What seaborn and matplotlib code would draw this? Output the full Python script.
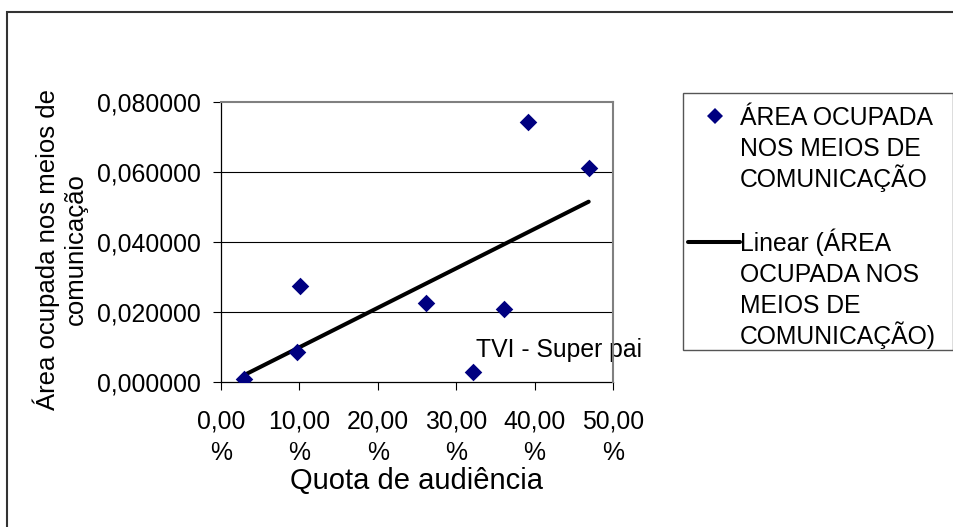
import matplotlib
matplotlib.use("Agg")
import matplotlib.pyplot as plt
from matplotlib.patches import Rectangle
from matplotlib.lines import Line2D
from matplotlib.ticker import FuncFormatter, FixedLocator
import seaborn as sns
import numpy as np

# ---- data ----
quota_audiencia = [2.97, 9.73, 10.08, 26.2, 32.2, 36.1, 39.2, 46.9]          # %
area_ocupada = [0.00077, 0.0085, 0.0274, 0.0225, 0.0029, 0.0209, 0.0744, 0.0611]
x_ticks = [0, 10, 20, 30, 40, 50]
y_ticks = [0.0, 0.02, 0.04, 0.06, 0.08]
point_label = "TVI - Super pai"
point_label_index = 4
legend_labels = [["ÁREA OCUPADA", "NOS MEIOS DE", "COMUNICAÇÃO"],
                 ["Linear (ÁREA", "OCUPADA NOS", "MEIOS DE", "COMUNICAÇÃO)"]]
x_title = "Quota de audiência"
y_title = "Área ocupada nos meios de\ncomunicação"

sns.set_style("white")
plt.rcParams['font.family'] = ['Liberation Sans', 'DejaVu Sans']

W, H = 954, 527
fig = plt.figure(figsize=(W / 100, H / 100), dpi=100)
fig.patch.set_facecolor("white")

def fx(px):
    return px / W

def fy(py):
    return 1 - py / H

ax = fig.add_axes([fx(221), fy(382), fx(613) - fx(221), fy(102) - fy(382)])

navy = "#000080"
sns.regplot(x=quota_audiencia, y=area_ocupada, ax=ax, ci=None, truncate=True,
            marker="D",
            scatter_kws=dict(s=80, color=navy, edgecolor=navy, linewidths=0, alpha=1, zorder=4),
            line_kws=dict(color="black", lw=2.9, zorder=3, solid_capstyle="round"))

ax.set_xlim(0, 50)
ax.set_ylim(0, 0.08)
ax.xaxis.set_major_locator(FixedLocator(x_ticks))
ax.yaxis.set_major_locator(FixedLocator(y_ticks))
ax.xaxis.set_major_formatter(FuncFormatter(lambda v, p: f"{v:.2f}".replace('.', ',') + "\n%"))
ax.yaxis.set_major_formatter(FuncFormatter(lambda v, p: f"{v:.6f}".replace('.', ',')))

ax.tick_params(axis="both", direction="out", length=5.5, width=0.8, color="black",
               labelsize=17.8, labelcolor="black")
ax.tick_params(axis="x", pad=14)
ax.tick_params(axis="y", pad=9)
ax.tick_params(left=True, bottom=True)
for lab in ax.get_xticklabels():
    lab.set_multialignment("center")
    lab.set_linespacing(1.42)

# horizontal gridlines
for v in y_ticks[1:-1]:
    ax.axhline(v, color="black", lw=0.8, zorder=1)

for s in ["left", "bottom"]:
    ax.spines[s].set_color("black")
    ax.spines[s].set_linewidth(0.9)
for s in ["top", "right"]:
    ax.spines[s].set_color("#808080")
    ax.spines[s].set_linewidth(1.5)
    ax.spines[s].set_zorder(6)

ax.set_xlabel(x_title, fontsize=21, color="black")
ax.xaxis.set_label_coords(0.5, -0.305)
ax.set_ylabel(y_title, fontsize=18.5, color="black", va="center", linespacing=1.2)
ax.yaxis.set_label_coords(-0.41, 0.475)

# data label
ax.annotate(point_label, xy=(quota_audiencia[point_label_index], area_ocupada[point_label_index]),
            xytext=(3, 15), textcoords="offset pixels", ha="left", va="baseline",
            fontsize=17.8, color="black", zorder=5, annotation_clip=False)

# ---- legend (Excel style) ----
fig.add_artist(Rectangle((fx(683), fy(350)), fx(953) - fx(683), fy(93) - fy(350),
                         transform=fig.transFigure, fill=False, edgecolor="#555555", lw=1.0))
fig.add_artist(Line2D([fx(715)], [fy(116)], marker="D", markersize=8.5, color=navy,
                      markeredgewidth=0, linestyle="none", transform=fig.transFigure))
fig.add_artist(Line2D([fx(688), fx(740)], [fy(242), fy(242)], color="black", lw=2.9,
                      transform=fig.transFigure))
line_step = 31
for first_center, lines in zip([116, 242], legend_labels):
    for i, line in enumerate(lines):
        fig.text(fx(740), fy(first_center + i * line_step + 9), line, ha="left",
                 va="baseline", fontsize=17.8, color="black")

# outer chart border
fig.add_artist(Rectangle((fx(7), -0.2), 1.3, fy(12) + 0.2, transform=fig.transFigure,
                         fill=False, edgecolor="#333333", lw=1.5))

fig.savefig("out.png", dpi=100)
